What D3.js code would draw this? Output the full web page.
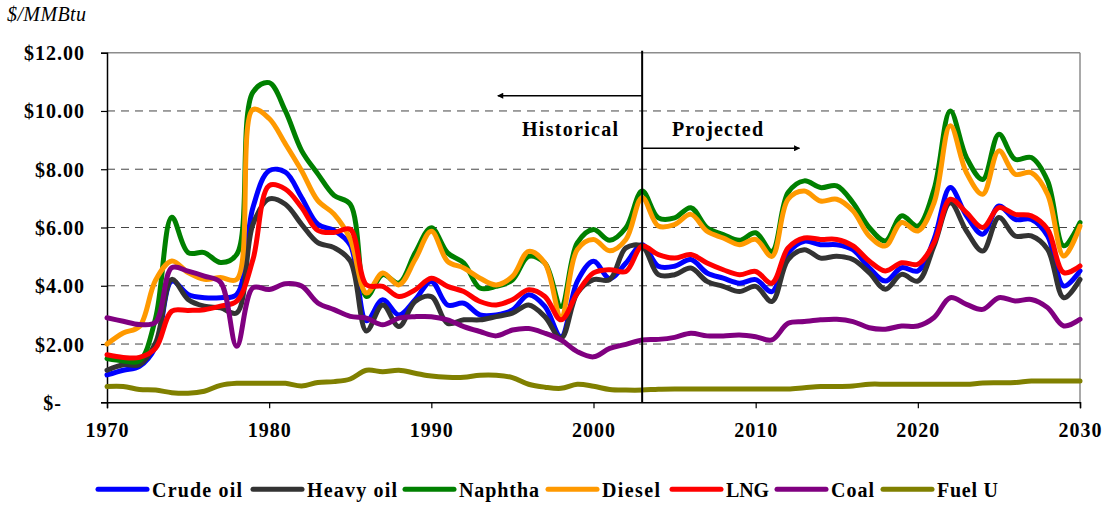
<!DOCTYPE html>
<html>
<head>
<meta charset="utf-8">
<script src="https://cdn.jsdelivr.net/npm/d3@7"></script>
<style>
  html, body { margin: 0; padding: 0; background: #ffffff; }
  svg { display: block; }
  text { font-family: "Liberation Serif", "Times New Roman", serif; }
</style>
</head>
<body>
<svg id="chart" width="1107" height="506"></svg>
<script>
// ---------------- DATA ----------------
const years = d3.range(1970, 2031);

const crudeOil = [0.94,1.1,1.23,1.9,4.16,3.7,3.59,3.59,3.7,6.69,7.95,7.9,7.03,6.11,5.9,5.4,2.8,3.52,3.0,3.52,4.15,3.34,3.4,3.0,3.0,3.17,3.69,3.29,2.25,4.15,4.84,4.25,4.78,5.41,4.67,4.67,4.9,4.44,4.26,4.09,4.21,3.8,5.13,5.53,5.41,5.41,5.24,4.62,4.16,4.62,4.51,5.6,7.37,6.4,5.77,6.74,6.28,6.28,5.71,3.99,4.51];

const heavyOil = [1.1,1.29,1.29,2.05,4.22,3.53,3.3,3.24,3.07,6.11,6.98,6.8,6.11,5.48,5.31,4.85,2.45,3.34,2.6,3.46,3.63,2.71,2.83,2.83,2.94,3.06,3.34,2.94,2.2,3.75,4.21,4.21,5.3,5.36,4.38,4.38,4.61,4.15,3.98,3.8,3.98,3.46,4.9,5.24,4.95,5.01,4.9,4.45,3.88,4.39,4.16,5.37,6.85,5.88,5.19,6.34,5.71,5.71,5.25,3.59,4.22];

const naphtha = [1.5,1.42,1.42,2.9,6.35,5.14,5.14,4.8,5.08,10.65,10.97,10.0,8.64,7.84,7.1,6.8,3.63,4.38,4.09,5.13,5.99,5.13,4.78,3.92,3.98,4.2,5.01,4.78,3.29,5.47,5.93,5.56,5.99,7.25,6.33,6.33,6.68,5.99,5.76,5.56,5.82,5.18,7.2,7.6,7.37,7.43,6.85,6.0,5.54,6.4,6.05,7.31,10.0,8.4,7.65,9.2,8.34,8.4,7.6,5.37,6.17];

const diesel = [2.0,2.38,2.6,4.2,4.85,4.45,4.22,4.28,4.22,10.05,9.74,8.87,7.95,6.92,6.46,5.6,3.75,4.44,4.03,4.9,5.87,4.84,4.61,4.26,4.03,4.32,5.18,4.78,2.94,5.24,5.59,5.2,5.59,7.02,6.05,6.1,6.45,5.87,5.64,5.41,5.59,5.01,6.97,7.25,6.91,6.97,6.57,5.71,5.37,6.17,5.88,6.85,9.49,7.88,7.14,8.63,7.83,7.88,7.14,5.02,6.05];

const lng = [1.63,1.54,1.54,1.86,3.13,3.15,3.18,3.3,3.47,4.9,7.44,7.32,6.69,5.9,5.83,5.94,4.03,3.98,3.63,3.86,4.26,3.98,3.8,3.46,3.34,3.52,3.86,3.63,2.83,3.75,4.44,4.55,4.49,5.36,5.07,4.95,5.07,4.78,4.55,4.38,4.49,4.09,5.3,5.64,5.59,5.59,5.37,4.85,4.51,4.79,4.74,5.48,6.97,6.51,6.0,6.68,6.45,6.4,5.94,4.45,4.68];

const coal = [2.9,2.78,2.67,2.75,4.62,4.5,4.33,4.12,1.92,3.93,3.87,4.07,3.99,3.41,3.18,2.95,2.89,2.66,2.89,2.94,2.94,2.83,2.6,2.43,2.28,2.48,2.53,2.37,2.14,1.74,1.56,1.85,1.99,2.14,2.16,2.23,2.37,2.28,2.28,2.31,2.25,2.14,2.71,2.77,2.83,2.85,2.77,2.56,2.51,2.62,2.62,2.91,3.59,3.36,3.19,3.59,3.48,3.53,3.25,2.62,2.85];

const fuelU = [0.54,0.54,0.44,0.42,0.33,0.31,0.38,0.58,0.65,0.65,0.65,0.65,0.56,0.68,0.71,0.8,1.1,1.05,1.1,1.0,0.9,0.86,0.86,0.93,0.93,0.85,0.62,0.52,0.48,0.62,0.55,0.44,0.42,0.42,0.45,0.46,0.46,0.46,0.46,0.46,0.46,0.46,0.46,0.5,0.54,0.54,0.56,0.62,0.62,0.62,0.62,0.62,0.62,0.62,0.66,0.67,0.68,0.73,0.73,0.73,0.73];

const seriesNames  = ["Crude oil","Heavy oil","Naphtha","Diesel","LNG","Coal","Fuel U"];
const seriesValues = [crudeOil, heavyOil, naphtha, diesel, lng, coal, fuelU];
const seriesColors = ["#0000FF","#333333","#008000","#FF9900","#FF0000","#800080","#808000"];

const yTicks = [0,2,4,6,8,10,12];
const yTickLabels = ["$-","$2.00","$4.00","$6.00","$8.00","$10.00","$12.00"];
const xTicks = [1970,1980,1990,2000,2010,2020,2030];
const splitYear = 2003;

// ---------------- CHART ----------------
const svg = d3.select("#chart");
svg.append("rect").attr("width",1107).attr("height",506).attr("fill","#fff");

const pLeft = 107, pRight = 1080, pTop = 52.7, pBottom = 402.3;
const x = d3.scaleLinear().domain([1970,2030]).range([pLeft,pRight]);
const y = d3.scaleLinear().domain([0,12]).range([pBottom,pTop]);

// gridlines
svg.append("g").selectAll("line")
  .data(yTicks.filter(v => v > 0 && v < 12))
  .join("line")
  .attr("x1", pLeft).attr("x2", pRight)
  .attr("y1", d => y(d)).attr("y2", d => y(d))
  .attr("stroke", "#444").attr("stroke-width", 1)
  .attr("stroke-dasharray", "8,6");

// plot border top/right (gray)
svg.append("line").attr("x1",pLeft).attr("x2",pRight).attr("y1",pTop).attr("y2",pTop)
  .attr("stroke","#8c8c8c").attr("stroke-width",1.5);
svg.append("line").attr("x1",pRight).attr("x2",pRight).attr("y1",pTop).attr("y2",pBottom)
  .attr("stroke","#8c8c8c").attr("stroke-width",1.5);

// y axis
const yAxis = d3.axisLeft(y).tickValues(yTicks).tickSize(6).tickFormat((d,i) => yTickLabels[i]);
const gy = svg.append("g").attr("transform", `translate(${pLeft},0)`).call(yAxis);
gy.select(".domain").attr("stroke","#000").attr("stroke-width",1.5);
gy.selectAll(".tick line").attr("stroke","#000").attr("stroke-width",1.2);
gy.selectAll(".tick text")
  .attr("x", d => d === 0 ? -45 : -22)
  .attr("dy","0.35em")
  .attr("fill","#000")
  .style("font-family",'"Liberation Serif", serif')
  .style("letter-spacing","1px")
  .style("font-size","20px").style("font-weight","bold");

// x axis
const xAxis = d3.axisBottom(x).tickValues(xTicks).tickSize(6).tickFormat(d3.format("d"));
const gx = svg.append("g").attr("transform", `translate(0,${pBottom})`).call(xAxis);
gx.select(".domain").attr("stroke","#000").attr("stroke-width",1.5);
gx.selectAll(".tick line").attr("stroke","#000").attr("stroke-width",1.2);
gx.selectAll(".tick text")
  .attr("y", 21).attr("dy","0.71em")
  .attr("fill","#000")
  .style("font-family",'"Liberation Serif", serif')
  .style("letter-spacing","1px")
  .style("font-size","20px").style("font-weight","bold");

// y unit label
svg.append("text").attr("x",7).attr("y",21)
  .style("font-size","20px").style("font-style","italic")
  .attr("textLength",79).attr("lengthAdjust","spacing")
  .attr("fill","#000").text("$/MMBtu");

// series lines
const line = d3.line()
  .x((d,i) => x(years[i]))
  .y(d => y(d))
  .curve(d3.curveCatmullRom.alpha(0.5));

svg.append("g").selectAll("path")
  .data(seriesValues)
  .join("path")
  .attr("d", d => line(d))
  .attr("fill","none")
  .attr("stroke", (d,i) => seriesColors[i])
  .attr("stroke-width", 5)
  .attr("stroke-linejoin","round")
  .attr("stroke-linecap","round");

// historical / projected divider
const xs = x(splitYear);
svg.append("line").attr("x1",xs).attr("x2",xs).attr("y1",pTop-2).attr("y2",pBottom)
  .attr("stroke","#000").attr("stroke-width",2);

// arrows
const defs = svg.append("defs");
defs.append("marker").attr("id","arrow").attr("viewBox","0 0 10 10")
  .attr("refX",9).attr("refY",5).attr("markerWidth",7).attr("markerHeight",6)
  .attr("markerUnits","userSpaceOnUse")
  .attr("orient","auto")
  .append("path").attr("d","M0,0 L10,5 L0,10 z").attr("fill","#000");

svg.append("line").attr("x1",xs).attr("x2",x(1994.1)).attr("y1",95.7).attr("y2",95.7)
  .attr("stroke","#000").attr("stroke-width",1.5).attr("marker-end","url(#arrow)");
svg.append("line").attr("x1",xs).attr("x2",x(2012.7)).attr("y1",148.3).attr("y2",148.3)
  .attr("stroke","#000").attr("stroke-width",1.5).attr("marker-end","url(#arrow)");

svg.append("text").attr("x",522).attr("y",135.5)
  .attr("textLength",96).attr("lengthAdjust","spacing")
  .style("font-size","20px").style("font-weight","bold").attr("fill","#000").text("Historical");
svg.append("text").attr("x",672).attr("y",135.5)
  .attr("textLength",91).attr("lengthAdjust","spacing")
  .style("font-size","20px").style("font-weight","bold").attr("fill","#000").text("Projected");

// legend
const legendLineX = [98, 253, 405, 548, 672, 777, 883];
const legendTextW = [90, 90, 80, 58, 43, 43, 61];
const lg = svg.append("g").selectAll("g").data(seriesNames).join("g")
  .attr("transform", (d,i) => `translate(${legendLineX[i]},489.3)`);
lg.append("line").attr("x1",0).attr("x2",49).attr("y1",0).attr("y2",0)
  .attr("stroke",(d,i) => seriesColors[i]).attr("stroke-width",5)
  .attr("stroke-linecap","round");
lg.append("text").attr("x",54).attr("y",7.4)
  .attr("textLength",(d,i) => legendTextW[i]).attr("lengthAdjust","spacing")
  .style("font-size","20px").style("font-weight","bold").attr("fill","#000")
  .text(d => d);
</script>
</body>
</html>
